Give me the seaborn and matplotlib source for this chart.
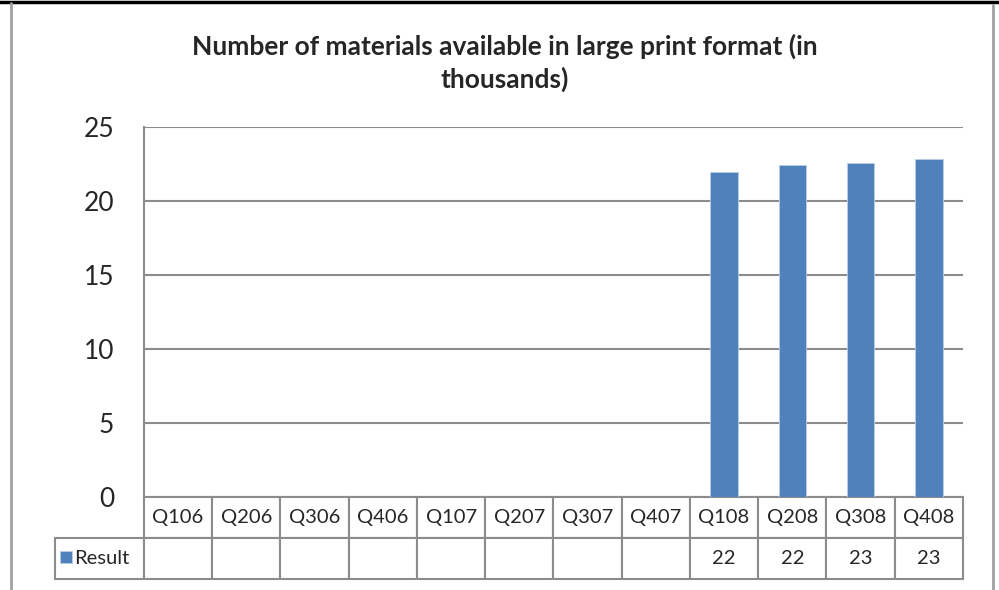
import numpy as np
import pandas as pd
import matplotlib.pyplot as plt
import seaborn as sns
from matplotlib.lines import Line2D

# Data (thousands of large print materials)
quarters = ["Q106", "Q206", "Q306", "Q406", "Q107", "Q207",
            "Q307", "Q407", "Q108", "Q208", "Q308", "Q408"]
results = [np.nan] * 8 + [21.99, 22.44, 22.56, 22.83]
series_name = "Result"
title = "Number of materials available in large print format (in\nthousands)"

df = pd.DataFrame({"quarter": quarters, "value": results})

sns.set_style("white")
plt.rcParams["font.family"] = ["Lato", "DejaVu Sans"]

bar_color = "#4F81BD"
line_gray = "#8C8C8C"

fig = plt.figure(figsize=(9.99, 5.9), dpi=100)
ax = fig.add_axes([144 / 999, 1 - 497 / 590, 819 / 999, 370 / 590])

sns.barplot(data=df, x="quarter", y="value", order=quarters, color=bar_color,
            saturation=1, width=0.4, label=series_name, ax=ax,
            edgecolor="#B9CDE5", linewidth=0.6)

ax.set_ylim(0, 25)
ax.set_yticks(range(0, 26, 5))
ax.yaxis.grid(True, color=line_gray, linewidth=1.5)
ax.set_axisbelow(True)
for s in ["top", "right", "bottom"]:
    ax.spines[s].set_visible(False)
ax.spines["left"].set_color(line_gray)
ax.spines["left"].set_linewidth(1.5)
ax.tick_params(left=False, bottom=False, labelbottom=False, labelsize=19, pad=18)
ax.set_xlabel("")
ax.set_ylabel("")

# data table under the axis
label_w = 89 / 819
row_h = 82 / 370
cell_text = [[""] + quarters,
             [""] + ["" if np.isnan(v) else f"{v:.0f}" for v in results]]
tbl = ax.table(cellText=cell_text, colWidths=[label_w] + [1 / 12] * 12,
               cellLoc="center", bbox=[-label_w, -row_h, 1 + label_w, row_h])
tbl.auto_set_font_size(False)
tbl.set_fontsize(14.5)
for (r, c), cell in tbl.get_celld().items():
    cell.set_edgecolor(line_gray)
    cell.set_linewidth(1.5)
    if r == 0 and c == 0:
        cell.visible_edges = ""

ax.legend(loc="center left", bbox_to_anchor=(-label_w + 0.006, -row_h * 0.75),
          frameon=False, fontsize=14.5, handlelength=0.6, handleheight=0.6,
          handletextpad=0.1, borderaxespad=0, borderpad=0)

fig.text(0.505, 1 - 63 / 590, title, ha="center", va="center",
         fontsize=19, fontweight="bold", linespacing=1.35)

# chart frame borders
fig.add_artist(Line2D([0, 1], [1 - 1.5 / 590] * 2, color="black", lw=2.5,
                      transform=fig.transFigure))
fig.add_artist(Line2D([11 / 999] * 2, [0, 1 - 3 / 590], color="#A0A0A0", lw=2,
                      transform=fig.transFigure))
fig.add_artist(Line2D([993 / 999] * 2, [0, 1 - 5 / 590], color="#A0A0A0", lw=2,
                      transform=fig.transFigure))

fig.savefig("out.png", dpi=100)
